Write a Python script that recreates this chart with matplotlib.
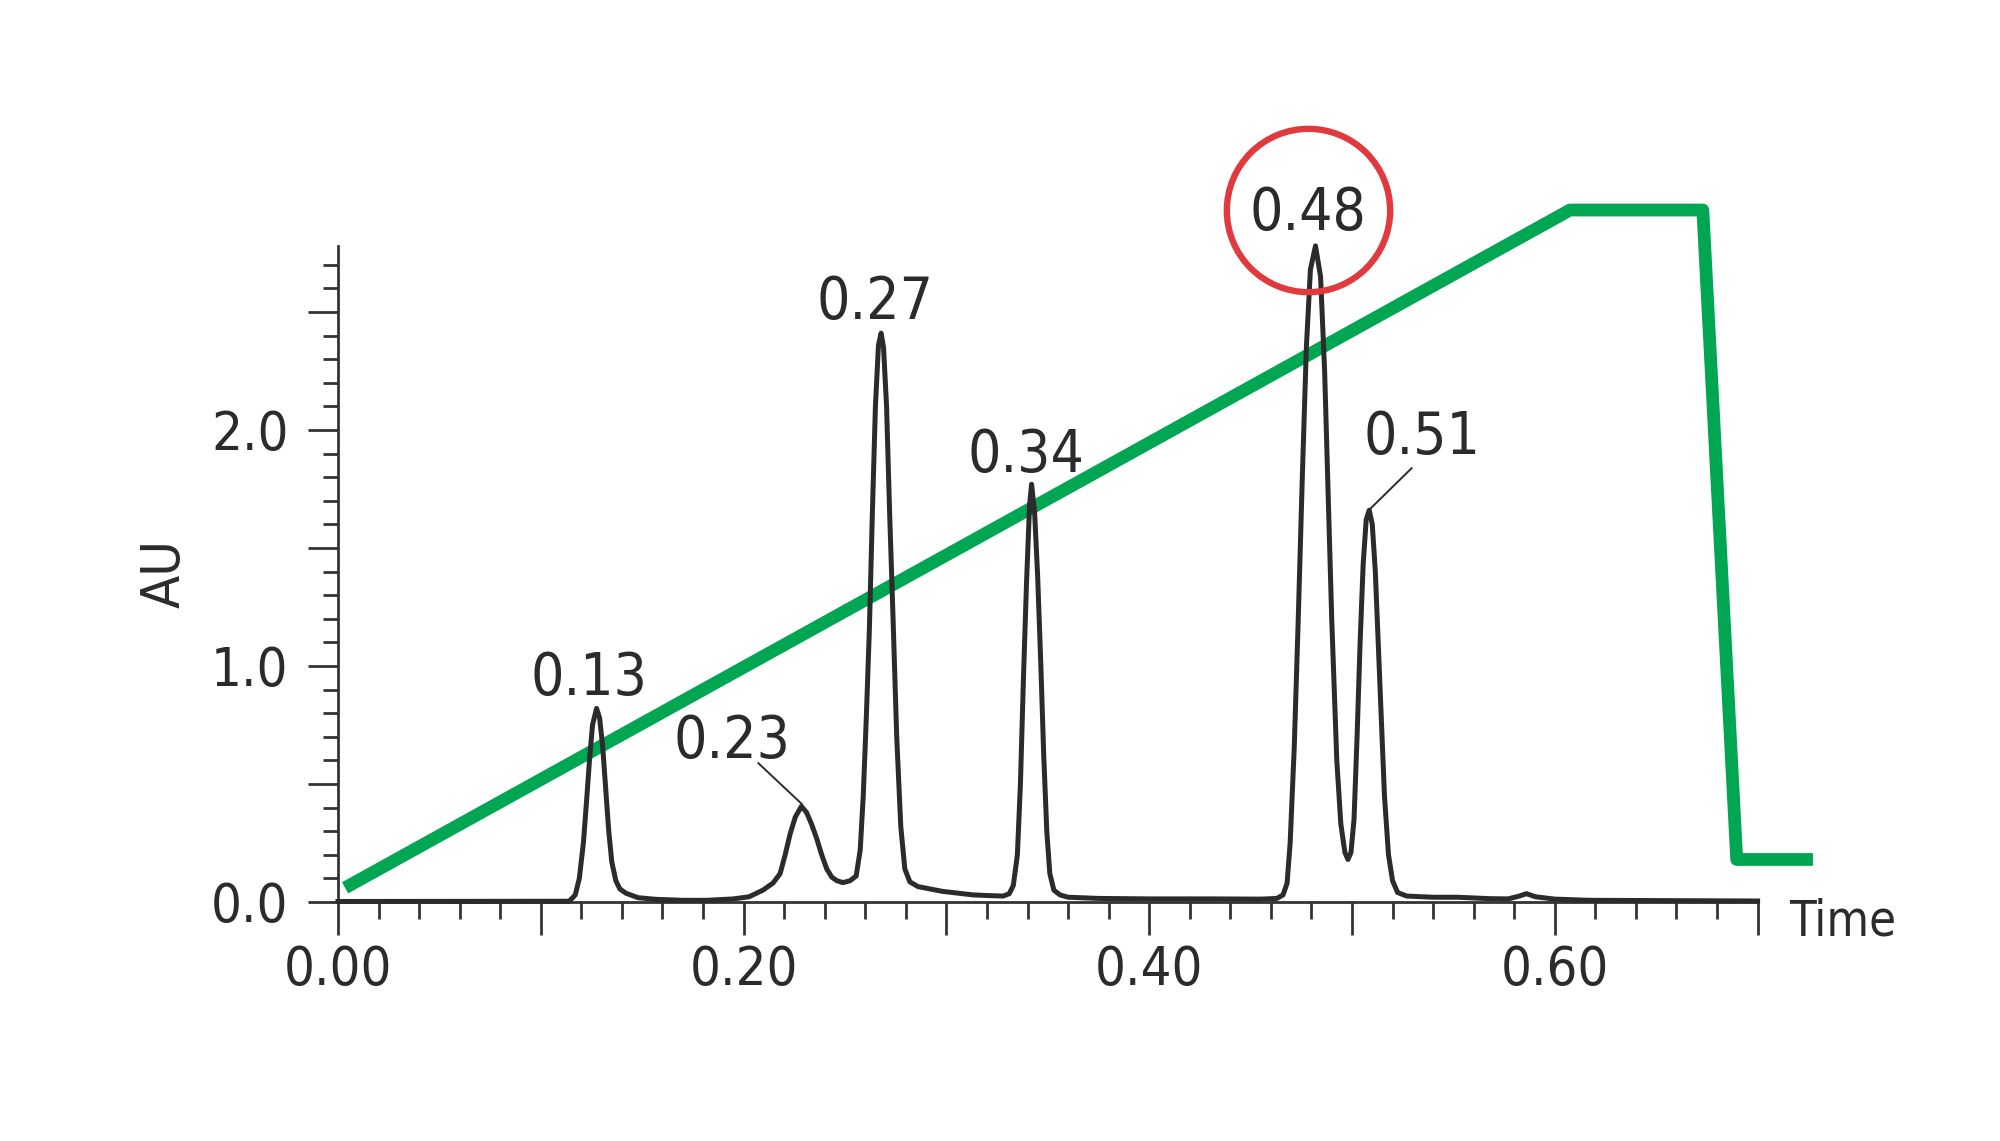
import matplotlib
matplotlib.use("Agg")
import matplotlib.pyplot as plt

# chromatogram trace (time, AU)
trace_time = [
    0.000, 0.114, 0.117, 0.119, 0.121, 0.1225, 0.124, 0.1255, 0.1275, 0.129,
    0.1305, 0.132, 0.1335, 0.135, 0.137, 0.139, 0.142, 0.148, 0.157, 0.170,
    0.182, 0.195, 0.2027, 0.2095, 0.2145, 0.218, 0.2205, 0.223, 0.2255, 0.2285,
    0.231, 0.2335, 0.236, 0.2385, 0.241, 0.2435, 0.246, 0.249, 0.2525, 0.2555,
    0.2575, 0.259, 0.2605, 0.262, 0.2635, 0.265, 0.2665, 0.2678, 0.269, 0.2705,
    0.272, 0.2737, 0.2755, 0.2775, 0.2795, 0.282, 0.286, 0.292, 0.298, 0.305,
    0.313, 0.321, 0.328, 0.331, 0.333, 0.335, 0.3365, 0.338, 0.3395, 0.341,
    0.342, 0.3435, 0.345, 0.3465, 0.348, 0.3495, 0.351, 0.353, 0.356, 0.360,
    0.375, 0.400, 0.430, 0.455, 0.463, 0.466, 0.468, 0.4695, 0.4715, 0.4735,
    0.4755, 0.4775, 0.4795, 0.482, 0.4845, 0.4865, 0.4885, 0.490, 0.4925, 0.4945,
    0.4965, 0.498, 0.4995, 0.501, 0.5025, 0.504, 0.5055, 0.507, 0.5085, 0.510,
    0.5115, 0.513, 0.5145, 0.516, 0.518, 0.520, 0.5225, 0.527, 0.540, 0.552,
    0.568, 0.577, 0.5825, 0.586, 0.5905, 0.600, 0.617, 0.700,
]
trace_au = [
    0.002, 0.003, 0.03, 0.10, 0.25, 0.42, 0.60, 0.75, 0.82, 0.78,
    0.66, 0.48, 0.30, 0.17, 0.09, 0.055, 0.037, 0.018, 0.011, 0.007,
    0.007, 0.013, 0.022, 0.05, 0.08, 0.12, 0.20, 0.29, 0.36, 0.405,
    0.38, 0.33, 0.27, 0.20, 0.14, 0.105, 0.09, 0.082, 0.09, 0.11,
    0.22, 0.45, 0.78, 1.15, 1.65, 2.10, 2.36, 2.41, 2.35, 2.10,
    1.65, 1.20, 0.70, 0.32, 0.14, 0.085, 0.065, 0.055, 0.045, 0.038,
    0.03, 0.027, 0.025, 0.035, 0.07, 0.20, 0.50, 0.95, 1.35, 1.68,
    1.77, 1.65, 1.38, 1.02, 0.62, 0.30, 0.12, 0.05, 0.03, 0.02,
    0.015, 0.013, 0.013, 0.012, 0.015, 0.03, 0.08, 0.25, 0.65, 1.20,
    1.80, 2.35, 2.68, 2.78, 2.65, 2.25, 1.65, 1.20, 0.60, 0.33,
    0.21, 0.18, 0.21, 0.35, 0.70, 1.10, 1.43, 1.62, 1.66, 1.60,
    1.40, 1.08, 0.75, 0.45, 0.20, 0.09, 0.04, 0.025, 0.02, 0.02,
    0.014, 0.013, 0.025, 0.035, 0.022, 0.012, 0.007, 0.004,
]

# gradient profile (green)
gradient_time = [0.0035, 0.6075, 0.673, 0.6897, 0.7273]
gradient_au = [0.06, 2.932, 2.932, 0.18, 0.18]

# peak labels: text, label position, leader line (None = no leader)
peak_labels = ["0.13", "0.23", "0.27", "0.34", "0.48", "0.51"]
label_x = [0.1238, 0.1943, 0.2648, 0.339, 0.4783, 0.5344]
label_y = [0.877, 0.612, 2.47, 1.822, 2.847, 1.898]
leader_start = [None, (0.2073, 0.588), None, None, None, (0.5294, 1.838)]
leader_end = [None, (0.2287, 0.415), None, None, None, (0.5084, 1.661)]
circle_center = (0.4783, 2.932)

x_major = [0.0, 0.1, 0.2, 0.3, 0.4, 0.5, 0.6, 0.7]
x_labels = ["0.00", "", "0.20", "", "0.40", "", "0.60", ""]
y_major = [0.0, 0.5, 1.0, 1.5, 2.0, 2.5]
y_labels = ["0.0", "", "1.0", "", "2.0", ""]

dark = "#2b2b2b"
green = "#00a651"
red = "#e03a3e"
plt.rcParams["font.family"] = ["DejaVu Sans"]
plt.rcParams["font.stretch"] = "condensed"

fig = plt.figure(figsize=(10, 5.705), dpi=200)
ax = fig.add_axes([0.169, 0.2095, 0.7098, 0.575])

ax.plot(gradient_time, gradient_au, color=green, lw=4.6,
        solid_joinstyle="round", solid_capstyle="butt", clip_on=False, zorder=2)
ax.plot(trace_time, trace_au, color=dark, lw=1.8, clip_on=False, zorder=3)

for i, txt in enumerate(peak_labels):
    ax.text(label_x[i], label_y[i], txt, ha="center", va="baseline",
            fontsize=21, color=dark, zorder=4)
    if leader_start[i] is not None:
        ax.plot([leader_start[i][0], leader_end[i][0]],
                [leader_start[i][1], leader_end[i][1]],
                color=dark, lw=0.7, zorder=4)

ax.plot([circle_center[0]], [circle_center[1]], marker="o", ms=58.8,
        mfc="none", mec=red, mew=2.3, clip_on=False, zorder=5)

ax.set_xlim(0, 0.70)
ax.set_ylim(0, 2.78)
ax.set_xticks(x_major)
ax.set_xticklabels(x_labels)
ax.set_xticks([i * 0.02 for i in range(36)], minor=True)
ax.set_yticks(y_major)
ax.set_yticklabels(y_labels)
ax.set_yticks([i * 0.1 for i in range(28)], minor=True)

for s in ["top", "right"]:
    ax.spines[s].set_visible(False)
for s in ["left", "bottom"]:
    ax.spines[s].set_color("#333333")
    ax.spines[s].set_linewidth(1.0)

ax.tick_params(axis="x", which="major", length=11.8, width=1.0, color="#333333",
               labelsize=19.5, labelcolor=dark, pad=3.5)
ax.tick_params(axis="x", which="minor", length=6.1, width=1.0, color="#333333")
ax.tick_params(axis="y", which="major", length=10.8, width=1.0, color="#333333",
               labelsize=19.5, labelcolor=dark, pad=7)
ax.tick_params(axis="y", which="minor", length=5.4, width=1.0, color="#333333")

ax.text(0.7155, -0.14, "Time", ha="left", va="baseline", fontsize=17.5, color=dark)
fig.text(165 / 2000, 1 - 574 / 1141, "AU", rotation=90, ha="center", va="center",
         fontsize=19.5, color=dark)

fig.savefig("out.png", dpi=200, facecolor="white")
